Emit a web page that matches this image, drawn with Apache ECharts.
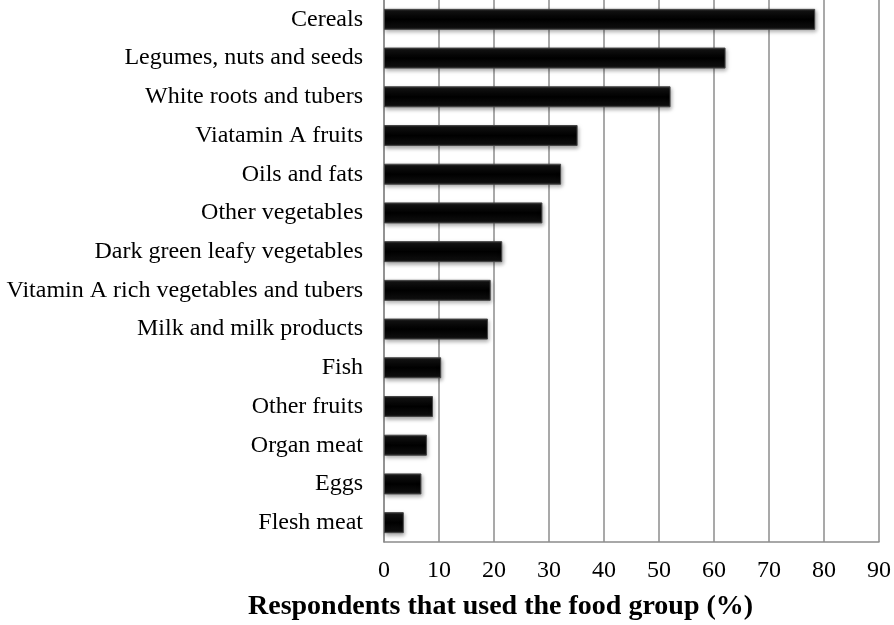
<!DOCTYPE html>
<html>
<head>
<meta charset="utf-8">
<script src="https://cdn.jsdelivr.net/npm/echarts@6/dist/echarts.min.js"></script>
<style>html,body{margin:0;padding:0;background:#fff}#c{width:894px;height:625px}</style>
</head>
<body>
<div id="c"></div>
<script>
const categories = ["Cereals","Legumes, nuts and seeds","White roots and tubers","Viatamin A fruits","Oils and fats","Other vegetables","Dark green leafy vegetables","Vitamin A rich vegetables and tubers","Milk and milk products","Fish","Other fruits","Organ meat","Eggs","Flesh meat"];
const values = [78.4,62.1,52.1,35.2,32.2,28.8,21.5,19.4,18.9,10.4,8.9,7.8,6.8,3.6];
const xTicks = [0,10,20,30,40,50,60,70,80,90];
const axisTitle = "Respondents that used the food group (%)";

const chart = echarts.init(document.getElementById('c'));
const font = '"Liberation Serif","Times New Roman",serif';
chart.setOption({
  animation:false,
  title:{text:axisTitle,left:248,top:593,padding:0,textStyle:{fontFamily:font,fontWeight:'bold',fontSize:28,color:'#000'}},
  grid:{left:384,right:13,top:0,bottom:83,containLabel:false},
  xAxis:{type:'value',min:xTicks[0],max:xTicks[xTicks.length-1],interval:10,
    axisLine:{show:true,lineStyle:{color:'#8c8c8c',width:1.5}},
    axisTick:{show:false},
    axisLabel:{fontFamily:font,fontSize:24,color:'#000',margin:17},
    splitLine:{show:true,lineStyle:{color:'#8c8c8c',width:1.5}}},
  yAxis:{type:'category',data:categories,inverse:true,
    axisLine:{show:true,lineStyle:{color:'#8c8c8c',width:1.5}},
    axisTick:{show:false},
    axisLabel:{fontFamily:font,fontSize:24,color:'#000',margin:21}},
  series:[{type:'bar',data:values,barWidth:21,
    itemStyle:{
      color:new echarts.graphic.LinearGradient(0,0,0,1,[
        {offset:0,color:'#3a3a3a'},{offset:0.12,color:'#111'},{offset:0.5,color:'#000'},{offset:0.88,color:'#0d0d0d'},{offset:1,color:'#2a2a2a'}]),
      borderColor:'#444',borderWidth:1,
      shadowColor:'rgba(0,0,0,0.35)',shadowBlur:4,shadowOffsetX:1,shadowOffsetY:2}}]
});
</script>
</body>
</html>
